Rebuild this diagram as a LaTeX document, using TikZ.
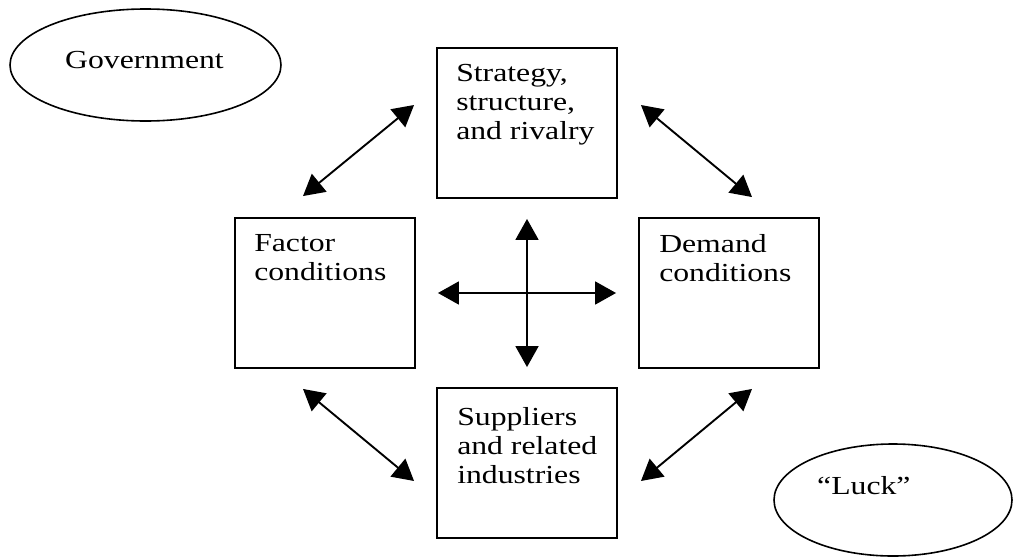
\documentclass[tikz,border=0pt]{standalone}
\usepackage{fontspec}
\setmainfont{Liberation Serif}[FakeStretch=1.22]
\usetikzlibrary{arrows.meta,calc,shapes.geometric}
\begin{document}
\begin{tikzpicture}[x=1pt,y=-1pt,
  box/.style={draw,line width=1.9pt,minimum width=180pt,minimum height=150pt,inner sep=0pt},
  oval/.style={draw,ellipse,line width=1.6pt,inner sep=0pt},
  txt/.style={anchor=north west,inner sep=0pt,align=left,font=\fontsize{26}{29}\selectfont},
  >={Triangle[length=21pt,width=23pt]},
  dbl/.style={line width=1.9pt,<->}]
\useasboundingbox (0,0) rectangle (1014,557);
\clip (0,0) rectangle (1014,557);
% ellipses
\node[oval,minimum width=271pt,minimum height=112pt] (gov) at (145.5,65) {};
\node[txt] (govt) at (65,51) {Government};
\node[oval,minimum width=238pt,minimum height=112pt] (luck) at (893,500) {};
\node[txt] (luckt) at (817,476) {“Luck”};
% boxes
\node[box] (S) at (527,123) {};
\node[box] (F) at (325,293) {};
\node[box] (D) at (729,293) {};
\node[box] (B) at (527,463) {};
\node[txt] (St) at ($(S.north west)+(20,17)$) {Strategy,\\structure,\\and rivalry};
\node[txt] (Ft) at ($(F.north west)+(20,17)$) {Factor\\conditions};
\node[txt] (Dt) at ($(D.north west)+(21,17)$) {Demand\\conditions};
\node[txt] (Bt) at ($(B.north west)+(21,20)$) {Suppliers\\and related\\industries};
% central cross
\draw[dbl,shorten <=22pt,shorten >=22pt] (F) -- (D);
\draw[dbl,shorten <=20pt,shorten >=20pt] (S) -- (B);
% diagonal arrows
\coordinate (a1) at ($(F.north)+(-22,-21)$);
\coordinate (a2) at ($(S.west)+(-22,-18)$);
\coordinate (b1) at ($(S.east)+(23,-18)$);
\coordinate (b2) at ($(D.north)+(23,-20)$);
\coordinate (c1) at ($(F.south)+(-22,20)$);
\coordinate (c2) at ($(B.west)+(-22,18)$);
\coordinate (d1) at ($(D.south)+(23,20)$);
\coordinate (d2) at ($(B.east)+(23,18)$);
\draw[dbl] (a1) -- (a2);
\draw[dbl] (b1) -- (b2);
\draw[dbl] (c1) -- (c2);
\draw[dbl] (d1) -- (d2);
\end{tikzpicture}
\end{document}
